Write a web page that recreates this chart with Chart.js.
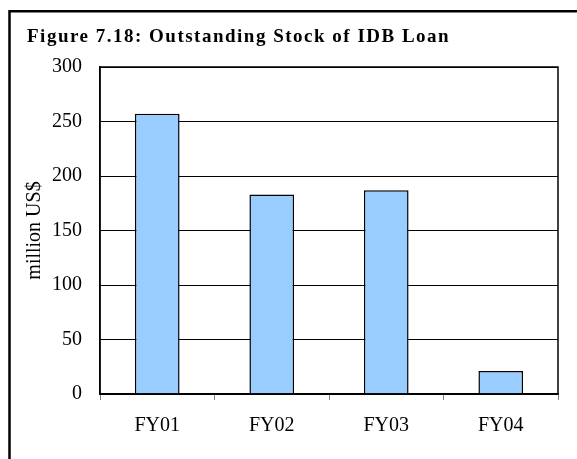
<!DOCTYPE html>
<html>
<head>
<meta charset="utf-8">
<script src="https://cdn.jsdelivr.net/npm/chart.js@4/dist/chart.umd.min.js"></script>
<style>
    html, body { margin: 0; padding: 0; background: #fff; }
    #wrap { width: 577px; height: 459px; position: relative; }
</style>
</head>
<body>
<div id="wrap"><canvas id="stock"></canvas></div>
<script>
// Data
const fiscalYears = ["FY01", "FY02", "FY03", "FY04"];
const idbLoanStock = [257, 183, 187, 21];
const yTicks = [0, 50, 100, 150, 200, 250, 300];
const figureTitle = 'Figure 7.18: Outstanding Stock of IDB Loan';

const SERIF = "'Liberation Serif', 'Times New Roman', serif";

// Frame lines, plot box and the spaced-out figure title
const framePlugin = {
    id: 'frame',
    beforeDraw(chart) {
        const ctx = chart.ctx;
        ctx.save();
        ctx.fillStyle = '#fff';
        ctx.fillRect(0, 0, chart.width, chart.height);
        ctx.strokeStyle = '#000';
        ctx.lineWidth = 2.5;
        ctx.beginPath();
        ctx.moveTo(9.5, chart.height + 2);
        ctx.lineTo(9.5, 11.3);
        ctx.lineTo(chart.width + 2, 11.3);
        ctx.stroke();
        ctx.restore();
    },
    afterDraw(chart) {
        const a = chart.chartArea;
        const ctx = chart.ctx;
        ctx.save();
        ctx.strokeStyle = '#000';
        ctx.lineWidth = 1.5;
        ctx.strokeRect(a.left, a.top, a.right - a.left, a.bottom - a.top);

        // title: bold serif with wide tracking
        ctx.fillStyle = '#000';
        ctx.font = 'bold 19px ' + SERIF;
        ctx.textAlign = 'left';
        ctx.textBaseline = 'alphabetic';
        if ('letterSpacing' in ctx) {
            ctx.letterSpacing = '1.5px';
            ctx.fillText(figureTitle, 27, 42);
        } else {
            let x = 27;
            for (const ch of figureTitle) {
                ctx.fillText(ch, x, 42);
                x += ctx.measureText(ch).width + 1.5;
            }
        }
        ctx.restore();
    }
};

new Chart(document.getElementById('stock'), {
    type: 'bar',
    data: {
        labels: fiscalYears,
        datasets: [{
            label: figureTitle,
            data: idbLoanStock,
            backgroundColor: '#99ccff',
            borderColor: '#000',
            borderWidth: 1.5,
            barPercentage: 0.39,
            categoryPercentage: 1.0,
        }]
    },
    options: {
        responsive: true,
        maintainAspectRatio: false,
        animation: false,
        layout: { padding: { left: 27, right: 19, top: 67, bottom: 0 } },
        plugins: {
            legend: { display: false },
            tooltip: { enabled: false },
            title: { display: false }
        },
        scales: {
            x: {
                offset: true,
                grid: {
                    offset: true,
                    drawOnChartArea: false,
                    drawTicks: true,
                    tickLength: 6,
                    color: '#808080',
                },
                border: { color: '#000', width: 1.5 },
                ticks: {
                    color: '#000',
                    padding: 14,
                    maxRotation: 0,
                    font: { family: SERIF, size: 20 }
                },
                afterFit(scale) { scale.height = 65; }
            },
            y: {
                min: 0,
                max: 300,
                afterBuildTicks(scale) { scale.ticks = yTicks.map(v => ({ value: v })); },
                grid: { color: '#000', lineWidth: 1, drawTicks: false },
                border: { color: '#000', width: 1.5 },
                ticks: {
                    color: '#000',
                    padding: 18,
                    font: { family: SERIF, size: 20 }
                },
                title: {
                    display: true,
                    text: 'million US$',
                    color: '#000',
                    font: { family: SERIF, size: 20, lineHeight: 1 },
                    padding: { top: -2, bottom: 0 }
                },
                afterFit(scale) { scale.width = 73; }
            }
        }
    },
    plugins: [framePlugin]
});
</script>
</body>
</html>
